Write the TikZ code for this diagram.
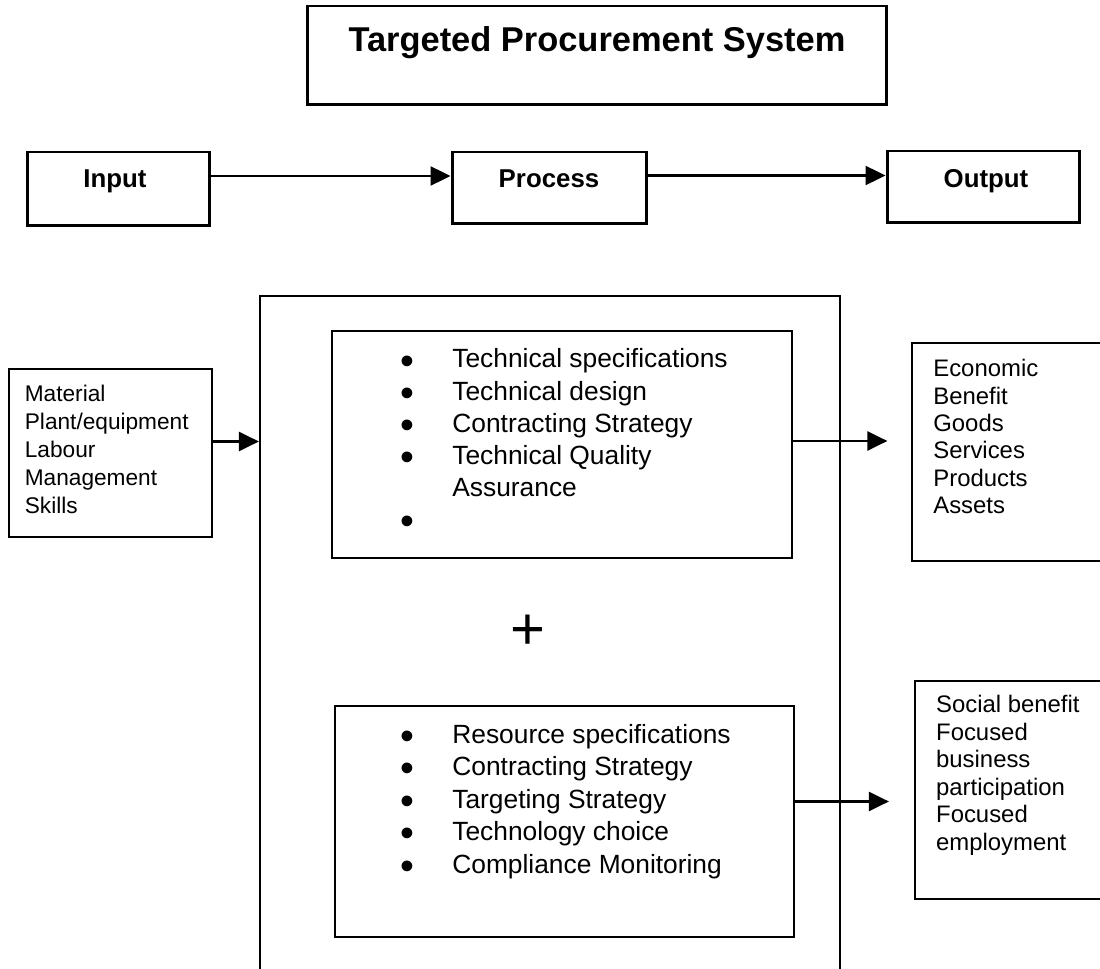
\documentclass[tikz,border=0pt]{standalone}
\usepackage{fontspec}
\setmainfont{Liberation Sans}
\usetikzlibrary{arrows.meta}
\newcommand\blt{\makebox[1.04cm][l]{\smash{\raisebox{-.23em}{\scalebox{1.5}{•}}}}}
\begin{document}
\begin{tikzpicture}
	[x=0.02cm,y=-0.02cm,box/.style={draw,line width=1.3pt,inner sep=0pt},heavy/.style={box,line width=1.7pt},txt/.style={inner sep=0pt,anchor=base west},>={Triangle[length=0.4cm,width=0.38cm]},arrow/.style={->,line width=1.3pt},big/.style={inner sep=0pt,anchor=base,font=\bfseries\fontsize{14.7pt}{16pt}\selectfont}]
\useasboundingbox (0,0) rectangle (1100,969);
\clip (0,0) rectangle (1100,969);
% title and input-process-output row
\node[heavy,minimum width=11.6cm,minimum height=1.98cm] (title) at (597,55.5) {};
\node[inner sep=0pt,anchor=base,font=\bfseries\fontsize{19.6pt}{21pt}\selectfont] (title-text) at (597,52) {Targeted Procurement System};
\node[heavy,minimum width=3.66cm,minimum height=1.48cm] (input) at (118.5,189) {};
\node[heavy,minimum width=3.9cm,minimum height=1.44cm] (process) at (549.5,188) {};
\node[heavy,minimum width=3.86cm,minimum height=1.44cm] (output) at (983.5,187) {};
\node[big] (input-text) at (115,188) {Input};
\node[big] (process-text) at (549,188) {Process};
\node[big] (output-text) at (986,188) {Output};
\draw[arrow] ([yshift=.26cm]input.east) -- ([yshift=.26cm]input.east -| process.west);
\draw[arrow] ([yshift=.25cm]process.east) -- ([yshift=.25cm]process.east -| output.west);
% inputs
\node[box,minimum width=4.06cm,minimum height=3.36cm] (items) at (110.5,453) {};
\node[txt,font=\fontsize{12.9pt}{15.9pt}\selectfont] (items-list) at (24.5,402) {\begin{tabular}[t]{@{}l@{}}Material\\Plant/equipment\\Labour\\Management\\Skills\end{tabular}};
% process frame
\node[box,minimum width=11.6cm,minimum height=14.08cm] (frame) at (550,648) {};
\node[box,minimum width=9.2cm,minimum height=4.54cm] (tech) at (562,444.5) {};
\node[txt,font=\fontsize{15pt}{18.3pt}\selectfont] (tech-list) at (400,368) {\begin{tabular}[t]{@{}l@{}}\blt Technical specifications\\\blt Technical design\\\blt Contracting Strategy\\\blt Technical Quality\\\hspace{1.04cm}Assurance\\\blt\end{tabular}};
\node[inner sep=0pt,font=\fontsize{34pt}{36pt}\selectfont] (plus) at (528,632) {+};
\node[box,minimum width=9.18cm,minimum height=4.62cm] (res) at (564.5,821.5) {};
\node[txt,font=\fontsize{15pt}{18.5pt}\selectfont] (res-list) at (400,743.3) {\begin{tabular}[t]{@{}l@{}}\blt Resource specifications\\\blt Contracting Strategy\\\blt Targeting Strategy\\\blt Technology choice\\\blt Compliance Monitoring\end{tabular}};
% outputs
\node[box,minimum width=4.16cm,minimum height=4.36cm] (econ) at (1016,452) {};
\node[txt,font=\fontsize{13.6pt}{15.6pt}\selectfont] (econ-list) at (933,376.7) {\begin{tabular}[t]{@{}l@{}}Economic\\Benefit\\Goods\\Services\\Products\\Assets\end{tabular}};
\node[box,minimum width=4.1cm,minimum height=4.36cm] (social) at (1017.5,790) {};
\node[txt,font=\fontsize{13.6pt}{15.6pt}\selectfont] (social-list) at (935.8,713) {\begin{tabular}[t]{@{}l@{}}Social benefit\\Focused\\business\\participation\\Focused\\employment\end{tabular}};
\draw[arrow] ([yshift=.23cm]items.east) -- ([yshift=.23cm]items.east -| frame.west);
\draw[arrow,shorten >=0.47cm] ([yshift=.07cm]tech.east) -- ([yshift=.07cm]tech.east -| econ.west);
\draw[arrow,shorten >=0.5cm] ([yshift=.4cm]res.east) -- ([yshift=.4cm]res.east -| social.west);
\end{tikzpicture}
\end{document}
